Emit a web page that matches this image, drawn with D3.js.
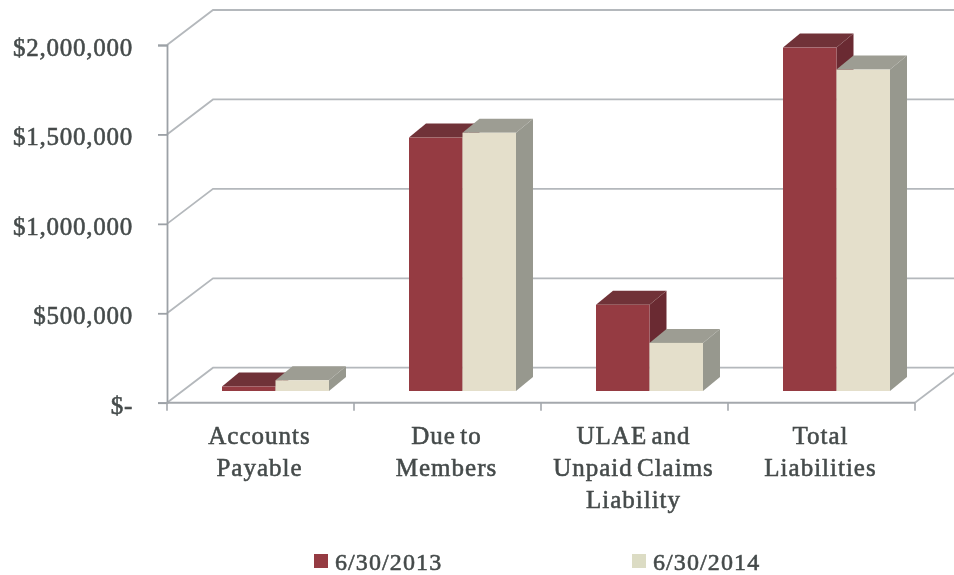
<!DOCTYPE html>
<html><head><meta charset="utf-8">
<script src="https://cdn.jsdelivr.net/npm/d3@7"></script>
<style>html,body{margin:0;padding:0;background:#fff;overflow:hidden}
text{font-family:"Liberation Serif",serif;fill:#454b4b;font-size:25px;stroke:#454b4b;stroke-width:.55px;word-spacing:-3px}</style>
</head><body><svg id="c" width="954" height="575">
<defs><filter id="scan" filterUnits="userSpaceOnUse" x="0" y="0" width="954" height="575"><feGaussianBlur stdDeviation="0.55"/></filter></defs>
</svg>
<script>
const categories=[["Accounts","Payable"],["Due to","Members"],["ULAE and","Unpaid Claims","Liability"],["Total","Liabilities"]];
const seriesNames=["6/30/2013","6/30/2014"];
const values2013=[25000,1417000,482000,1920000];
const values2014=[60000,1444000,269000,1797000];
const yTicks=[0,500000,1000000,1500000,2000000];
const seriesFill=[{face:"#953a42",top:"#703338",side:"#6b2b30"},{face:"#e4dfcb",top:"#9d9d93",side:"#97988e"}];

const svg=d3.select("#c");
const root=svg.append("g").attr("filter","url(#scan)");
const y=d3.scaleLinear().domain([0,2000000]).range([402.7,45]);
const x=d3.scaleBand().domain(d3.range(categories.length)).range([167,915]);
const wallDx=46,wallDy=-35,barDx=17,barDy=-14,barLift=11.7;
const s=d3.scaleBand().domain([0,1]).range([55,162]);

const line=d3.line();
root.append("g").selectAll("path").data(yTicks).join("path")
 .attr("d",d=>line([[167,y(d)],[167+wallDx,y(d)+wallDy],[954,y(d)+wallDy]]))
 .attr("fill","none").attr("stroke","#b4b8bc").attr("stroke-width",1.8);
root.append("path").attr("d",line([[915,y(0)],[915+wallDx,y(0)+wallDy]]))
 .attr("fill","none").attr("stroke","#b4b8bc").attr("stroke-width",1.8);
const yAxis=d3.axisLeft(y).tickValues(yTicks).tickSize(9).tickPadding(25)
 .tickFormat(d=>d===0?"$-":d3.format("$,")(d));
const gy=root.append("g").attr("transform","translate(167,0)").call(yAxis);
gy.selectAll("path,line").attr("stroke","#9ca1a6").attr("stroke-width",1.8);
gy.selectAll("text").attr("dy","0.42em").style("letter-spacing","0.75px");
gy.attr("font-size",null).attr("font-family",null);
root.append("path").attr("d",line([[167,y(0)],[915,y(0)]])).attr("stroke","#a4a8ad").attr("stroke-width",2);
root.append("g").selectAll("line").data(d3.range(categories.length+1)).join("line")
 .attr("x1",i=>x(0)+i*x.step()).attr("x2",i=>x(0)+i*x.step())
 .attr("y1",y(0)).attr("y2",y(0)+8).attr("stroke","#a4a8ad").attr("stroke-width",1.6);
const allSeries=[values2013,values2014];
categories.forEach((c,i)=>{
 const g=root.append("g");
 allSeries.forEach((vals,k)=>{
  const x0=x(i)+s(k),x1=x0+s.bandwidth(),base=y(0)-barLift,t=y(vals[i])-barLift,col=seriesFill[k];
  g.append("path").attr("fill",col.side).attr("d",line([[x1,t],[x1+barDx,t+barDy],[x1+barDx,base+barDy],[x1,base]])+"Z");
  g.append("path").attr("fill",col.top).attr("d",line([[x0,t],[x0+barDx,t+barDy],[x1+barDx,t+barDy],[x1,t]])+"Z");
  g.append("rect").attr("fill",col.face).attr("x",x0).attr("y",t).attr("width",s.bandwidth()).attr("height",base-t);
 });
});
const lab=root.append("g").selectAll("text").data(categories).join("text")
 .attr("text-anchor","middle").style("letter-spacing","1px");
lab.each(function(c,i){
 d3.select(this).selectAll("tspan").data(c).join("tspan")
  .attr("x",x(i)+x.bandwidth()/2-1).attr("y",(d,j)=>444+j*32).text(d=>d);
});
const legendX=[314,632],legendCol=["#953a42","#dcdcc4"];
const lg=root.append("g").selectAll("g").data(seriesNames).join("g").attr("transform",(d,i)=>`translate(${legendX[i]},554)`);
lg.append("rect").attr("width",14).attr("height",14).attr("fill",(d,i)=>legendCol[i]);
lg.append("text").attr("x",21).attr("y",15.5).style("font-size","24px").style("letter-spacing","1.1px").text(d=>d);
</script></body></html>
